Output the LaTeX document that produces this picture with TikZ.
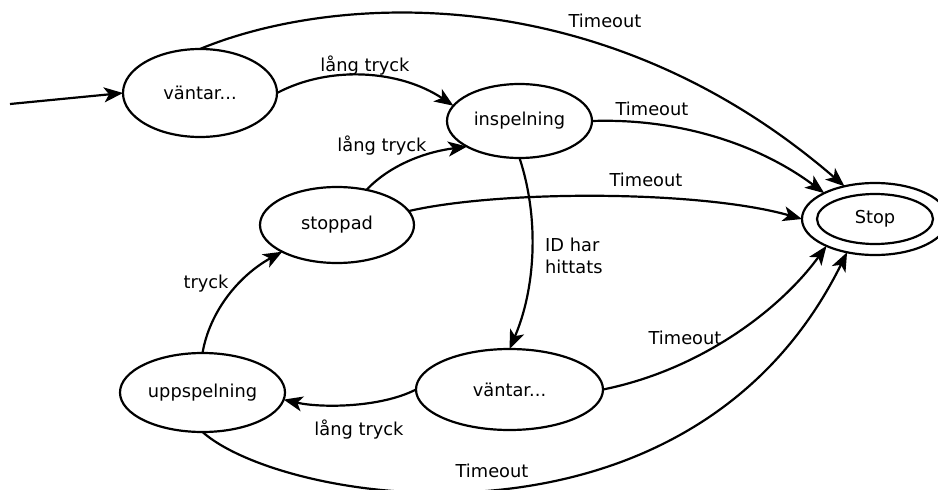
\documentclass[tikz,border=0pt]{standalone}
\usepackage{fontspec}
\setmainfont{DejaVu Sans}
\usetikzlibrary{shapes.geometric,arrows.meta}
\begin{document}
\begin{tikzpicture}[x=1pt,y=-1pt,
  every node/.append style={font=\fontsize{17.8}{22.5}\selectfont},
  state/.style={draw,ellipse,line width=2.2pt,inner sep=0pt,outer sep=0pt},
  edge/.style={line width=2.2pt,-{Stealth[length=19pt,width=15pt,inset=5pt]}},
  lbl/.style={inner sep=0pt}]
\useasboundingbox (0,0) rectangle (938,490);
\clip (0,0) rectangle (938,490);

% states
\node[state,minimum width=154pt,minimum height=88pt] (w1) at (200,93) {väntar...};
\node[state,minimum width=145pt,minimum height=74pt] (rec) at (519.5,121) {inspelning};
\node[state,minimum width=154pt,minimum height=76pt] (stopped) at (337,225) {stoppad};
\node[state,minimum width=146pt,minimum height=72pt] (stopout) at (875,219) {};
\node[state,minimum width=116pt,minimum height=50pt] (stop) at (875,219) {Stop};
\node[state,minimum width=187pt,minimum height=81pt] (w2) at (509.5,389.5) {väntar...};
\node[state,minimum width=165pt,minimum height=79pt] (play) at (202.5,392.5) {uppspelning};

% transitions
\coordinate (entry) at (10,104);
\draw[edge] (entry) -- (w1.west);
\draw[edge] (w1.north) .. controls (330,-5) and (600,-25) .. (stopout.133);
\draw[edge] (w1.east) .. controls (330,65) and (400,70) .. (rec.167);
\draw[edge] (stopped.50) .. controls (390,165) and (425,152) .. (rec.206);
\draw[edge] (rec.east) .. controls (680,118) and (760,145) .. (stopout.153);
\draw[edge] (stopped.11) .. controls (500,190) and (700,190) .. (stopout.west);
\draw[edge] (rec.south) .. controls (540,220) and (535,290) .. (w2.north);
\draw[edge] (w2.west) .. controls (380,408) and (320,408) .. (play.355);
\draw[edge] (play.north) .. controls (210,310) and (240,275) .. (stopped.206);
\draw[edge] (w2.east) .. controls (700,370) and (780,310) .. (stopout.209);
\draw[edge] (play.south) .. controls (285,505) and (690,570) .. (stopout.230);

% transition labels
\node[lbl] (t1) at (605,21) {Timeout};
\node[lbl] (l1) at (365,66) {lång tryck};
\node[lbl] (l2) at (382,146) {lång tryck};
\node[lbl] (t2) at (652,109) {Timeout};
\node[lbl] (t3) at (646,180) {Timeout};
\node[lbl,align=left,anchor=west] (id) at (545,256) {ID har\\hittats};
\node[lbl] (tr) at (206,284) {tryck};
\node[lbl] (l3) at (359,430) {lång tryck};
\node[lbl] (t4) at (685,338) {Timeout};
\node[lbl] (t5) at (492,471) {Timeout};
\end{tikzpicture}
\end{document}
